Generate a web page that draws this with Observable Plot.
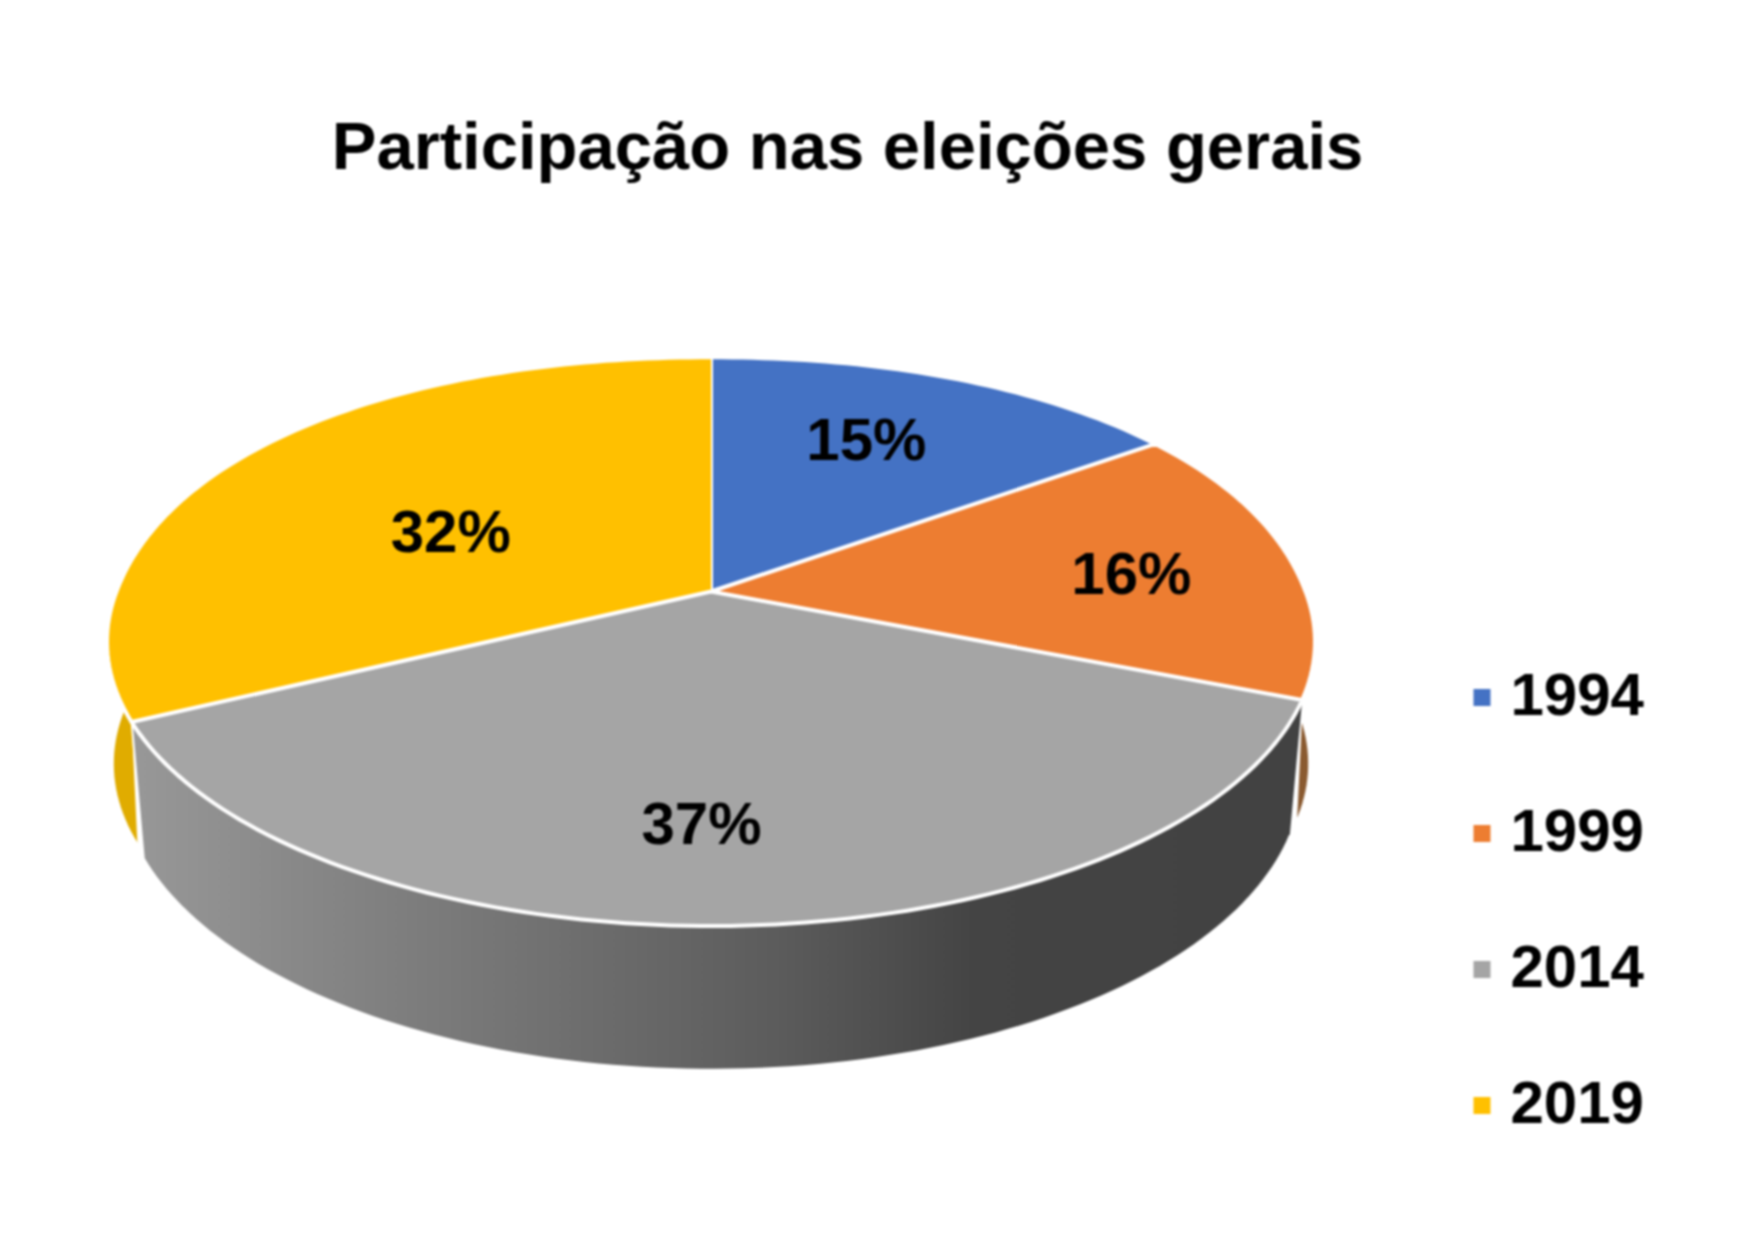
<!DOCTYPE html>
<html><head><meta charset="utf-8">
<style>html,body{margin:0;padding:0;background:#fff}svg{display:block;filter:blur(0.8px)}</style>
<script src="https://cdn.jsdelivr.net/npm/d3@7"></script>
<script src="https://cdn.jsdelivr.net/npm/@observablehq/plot@0.6"></script>
</head><body><div id="chart"></div>
<script>
const chartTitle = "Participação nas eleições gerais";
const years = ["1994", "1999", "2014", "2019"];
const shares = [15.1, 15.9, 36.8, 32.2];
const colors = ["#4472C4", "#ED7D31", "#A5A5A5", "#FFC000"];
const wallColors = ["#3A62A8", "#8A5A30", "url(#wallGradient)", "#E0AC00"];
const labelTurns = [7.1, 23.6, 50.3, 82.2];
const labelRadii = [0.663, 0.717, 0.738, 0.5];

// Perspective view of the disc
const W = 1749, H = 1241, cx = 710.5, cy = 591, sx = 594.5, q = 275.5, p = 0.1765;
const frontView = {shrink: 0.979, stretch: 1.035, drop: 132};
const sideView = {shrink: 0.99, stretch: 1, drop: 122};
const project = (turn, r = 1, view = null) => {
  const a = turn / 100 * 2 * Math.PI, s = Math.sin(a), c = Math.cos(a);
  const n = c > 0 ? 2.1 : 2;
  const rr = r * Math.pow(Math.pow(Math.abs(s), n) + Math.pow(Math.abs(c), n), -1 / n);
  const u = rr * s, v = rr * c, w = 1 + p * v;
  const X = sx * u / w, Y = q * v / w;
  return view ? {x: cx + view.shrink * X, y: cy - view.stretch * Y + view.drop} : {x: cx + X, y: cy - Y};
};
const slices = [];
let acc = 0;
years.forEach((year, i) => { slices.push({year, share: shares[i], start: acc, end: acc + shares[i], wall: wallColors[i], i}); acc += shares[i]; });
const arc = (s, view) => {
  const m = Math.ceil(s.share * 3), out = [];
  for (let k = 0; k <= m; k++) out.push(project(s.start + (s.end - s.start) * k / m, 1, view));
  return out;
};
const facePts = slices.flatMap(s => [project(0, 0), ...arc(s, null)].map(d => ({...d, year: s.year})));
const wallOf = (s, view) => [...arc(s, null), ...arc(s, view).reverse()].map(d => ({...d, year: s.year}));
const labels = slices.map((s, i) => ({...project(labelTurns[i], labelRadii[i]), text: Math.round(s.share) + "%"}));

// Legend layout
const legendYs = [697, 833, 969, 1105];
const legend = years.map((year, i) => ({year, y: legendYs[i]}));
const font = "'Liberation Sans', Arial, sans-serif";

const defs = () => {
  const d = document.createElementNS("http://www.w3.org/2000/svg", "defs");
  d.innerHTML = `<linearGradient id="wallGradient" x1="0" x2="1" y1="0" y2="0">
    <stop offset="0" stop-color="#989898"/><stop offset="0.25" stop-color="#7c7c7c"/>
    <stop offset="0.55" stop-color="#5c5c5c"/><stop offset="0.72" stop-color="#444444"/><stop offset="1" stop-color="#424242"/></linearGradient>`;
  return d;
};

const chart = Plot.plot({
  width: W, height: H, margin: 0,
  style: {background: "#fff"},
  x: {domain: [0, W], range: [0, W], axis: null},
  y: {domain: [0, H], range: [0, H], axis: null},
  color: {domain: years, range: colors},
  marks: [
    defs,
    Plot.line(wallOf(slices[0], sideView), {x: "x", y: "y", fill: slices[0].wall, stroke: "white", strokeWidth: 1.5}),
    Plot.line(wallOf(slices[3], sideView), {x: "x", y: "y", fill: slices[3].wall, stroke: "white", strokeWidth: 1.5}),
    Plot.line(wallOf(slices[1], sideView), {x: "x", y: "y", fill: slices[1].wall, stroke: "white", strokeWidth: 1.5}),
    Plot.line(wallOf(slices[2], frontView), {x: "x", y: "y", fill: slices[2].wall, stroke: "white", strokeWidth: 2}),
    Plot.line(facePts, {x: "x", y: "y", z: "year", fill: "year", stroke: "white", strokeWidth: 4, strokeLinejoin: "round"}),
    Plot.text(labels, {x: "x", y: "y", text: "text", fontFamily: font, fontWeight: 700, fontSize: 60, fill: "#000"}),
    Plot.text([chartTitle], {x: () => 847, y: () => 147, text: d => d, fontFamily: font, fontWeight: 700, fontSize: 67, fill: "#000"}),
    Plot.dot(legend, {x: () => 1481.5, y: "y", symbol: "square", r: 9.6, fill: "year"}),
    Plot.text(legend, {x: () => 1510, y: d => d.y, dy: -1.5, text: "year", textAnchor: "start", fontFamily: font, fontWeight: 700, fontSize: 60, fill: "#000"})
  ]
});
document.getElementById("chart").append(chart);
</script></body></html>
